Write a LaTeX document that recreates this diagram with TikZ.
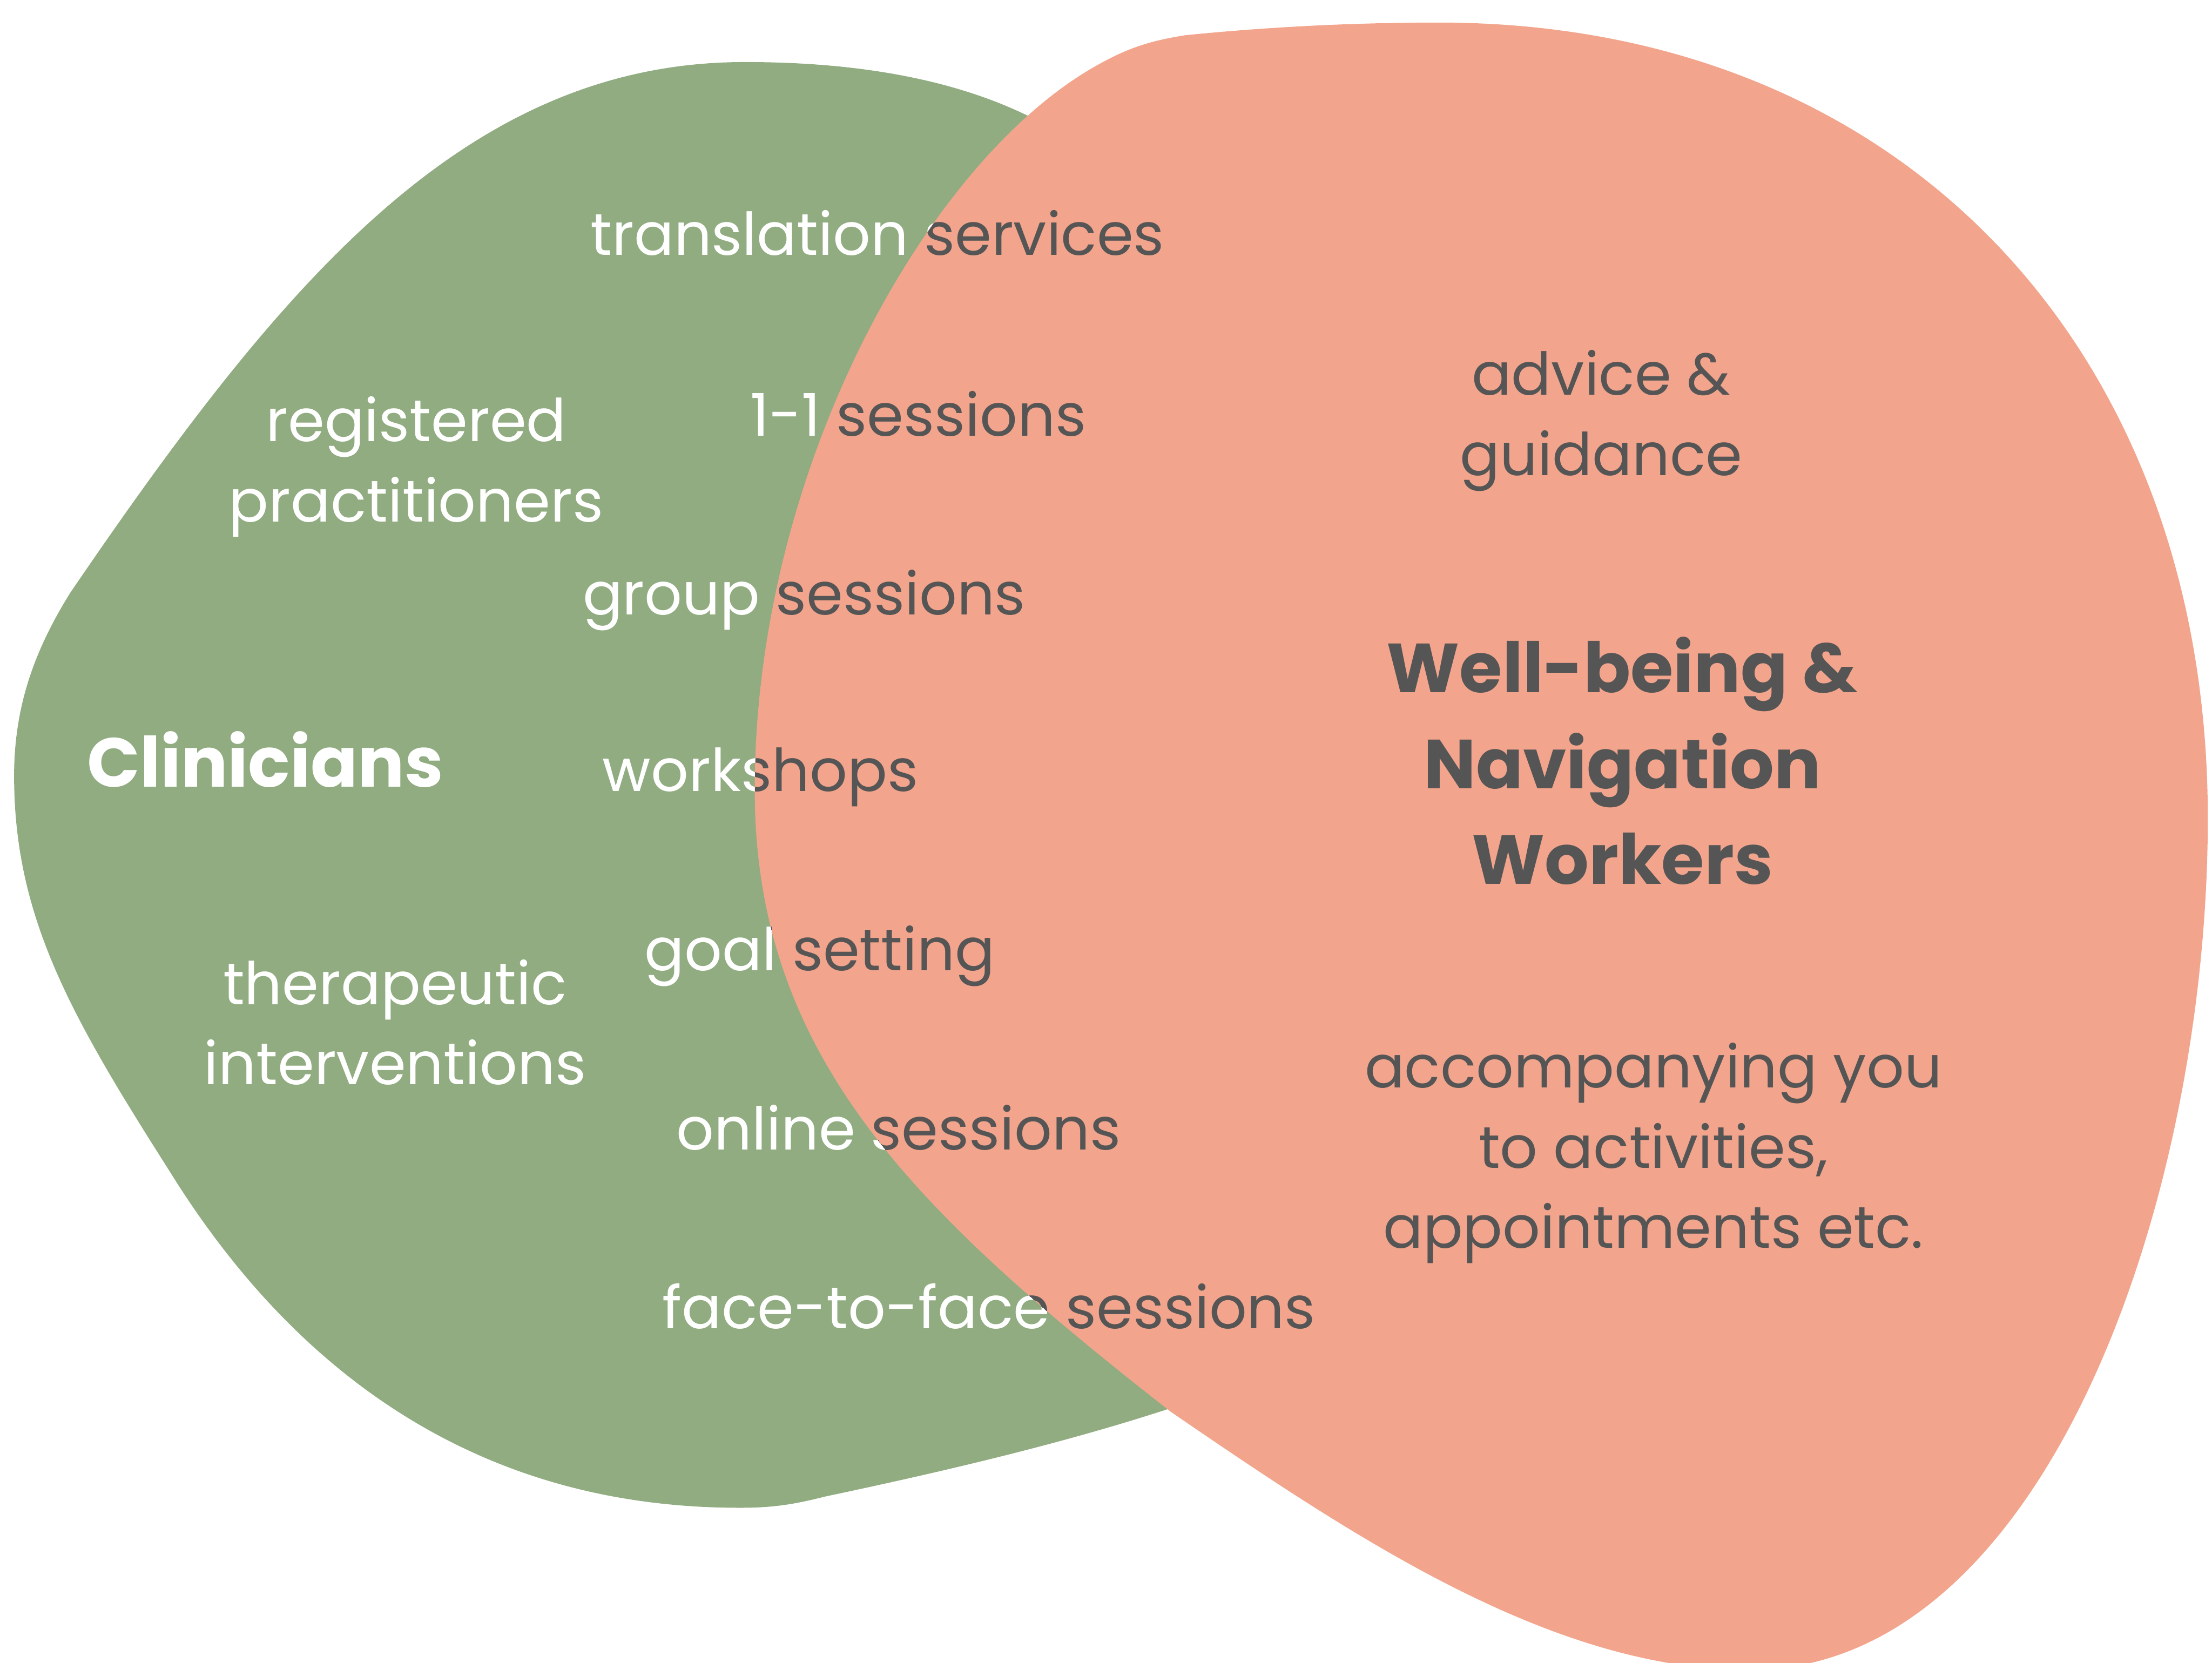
\documentclass[tikz,border=0pt]{standalone}
\usepackage{fontspec}
\setmainfont{Poppins}

\definecolor{blobgreen}{RGB}{144,172,128}
\definecolor{blobpink}{RGB}{242,165,140}
\definecolor{inkgray}{RGB}{85,85,85}

% outlines of the two blobs
\newcommand\greenoutline{(528,44)
  .. controls (330,44) and (200,200) .. (50,420)
  .. controls (25,460) and (10,500) .. (10,550)
  .. controls (10,650) and (50,720) .. (120,830)
  .. controls (250,1040) and (420,1069) .. (525,1069)
  .. controls (550,1069) and (565,1066) .. (585,1061)
  .. controls (670,1043) and (760,1022) .. (840,995)
  .. controls (950,900) and (950,300) .. (760,100)
  .. controls (700,60) and (620,44) .. (528,44) -- cycle}
\newcommand\pinkoutline{(840,25)
  .. controls (900,19) and (960,16) .. (1020,16)
  .. controls (1350,16) and (1565,250) .. (1565,580)
  .. controls (1565,850) and (1450,1184) .. (1240,1184)
  .. controls (1100,1184) and (960,1090) .. (830,1001)
  .. controls (650,860) and (535,750) .. (535,560)
  .. controls (535,330) and (660,110) .. (780,45)
  .. controls (800,34) and (815,29) .. (840,25) -- cycle}

% labels lying across the edge of the pink blob
\newcommand\crosslabels[2]{%
  \node[lbl,text=#1] (#2-trans)  at (622,181) {translation services};
  \node[lbl,text=#1] (#2-one)    at (651,309) {1-1 sessions};
  \node[lbl,text=#1] (#2-group)  at (570,436) {group sessions};
  \node[lbl,text=#1] (#2-work)   at (539,561) {workshops};
  \node[lbl,text=#1] (#2-goal)   at (581,688) {goal setting};
  \node[lbl,text=#1] (#2-online) at (637,815) {online sessions};
  \node[lbl,text=#1] (#2-face)   at (701,942) {face-to-face sessions};
}

\begin{document}
\begin{tikzpicture}[x=0.02cm, y=-0.02cm,
  lbl/.style={font=\fontsize{23.8}{32.4}\selectfont, inner sep=0pt,
    anchor=base, align=center},
  head/.style={font=\fontsize{28}{38.7}\selectfont\bfseries, inner sep=0pt,
    anchor=base, align=center}]
  \useasboundingbox (0,0) rectangle (1568,1179);

  % clinicians blob with its white labels
  \fill[blobgreen] \greenoutline;
  \crosslabels{white}{w}
  \node[lbl,text=white] (reg) at (295,370) {registered\\practitioners};
  \node[head,text=white] (clin) at (188,558) {Clinicians};
  \node[lbl,text=white] (ther) at (280,769) {therapeutic\\interventions};

  % well-being blob, grey labels clipped to it
  \fill[blobpink] \pinkoutline;
  \begin{scope}
    \clip \pinkoutline;
    \crosslabels{inkgray}{g}
  \end{scope}
  \node[lbl,text=inkgray] (adv) at (1135,337) {advice \&\\guidance};
  \node[head,text=inkgray] (wnw) at (1150,627) {Well-being \&\\Navigation\\Workers};
  \node[lbl,text=inkgray] (acc) at (1172,885) {accompanying you\\to activities,\\appointments etc.};
\end{tikzpicture}
\end{document}
